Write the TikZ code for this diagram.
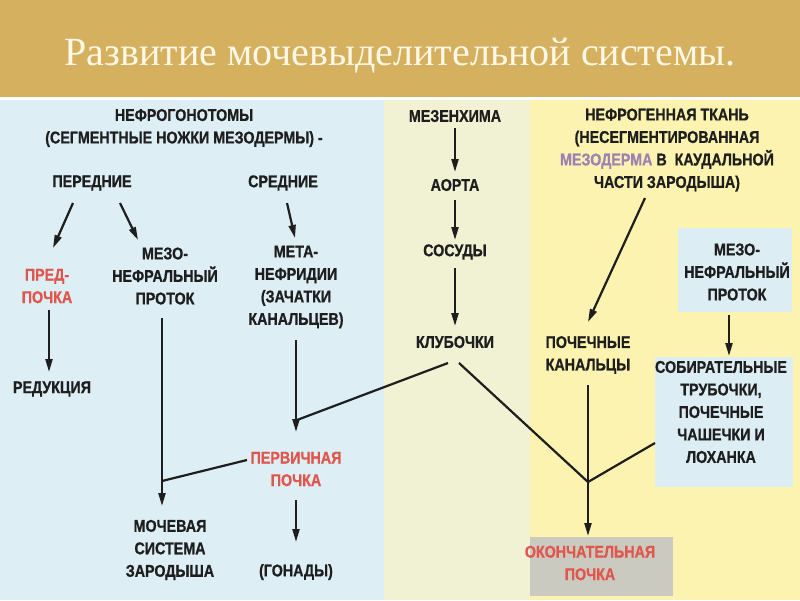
\documentclass[tikz,border=0pt]{standalone}
\usepackage{fontspec}
\setmainfont{Liberation Serif}
\newfontfamily\labelfont[FakeStretch=0.84,BoldFeatures={FakeBold=0.8}]{Liberation Sans}
\usetikzlibrary{arrows.meta}
\definecolor{TitleGold}{HTML}{D5B15F}
\definecolor{TitleCream}{HTML}{FFF8E6}
\definecolor{PanelBlue}{HTML}{DDEEF4}
\definecolor{PanelPale}{HTML}{F1F2D3}
\definecolor{PanelYellow}{HTML}{FBF3AF}
\definecolor{BoxBlue}{HTML}{DCEEF4}
\definecolor{BoxGray}{HTML}{CBCAC0}
\definecolor{LabelInk}{HTML}{1E1E1E}
\definecolor{KidneyRed}{HTML}{E0554C}
\definecolor{MesoPurple}{HTML}{9B82B2}

\begin{document}
\begin{tikzpicture}[
  x=1pt,y=-1pt,
  lbl/.style={font=\labelfont\bfseries\fontsize{17}{22.5}\selectfont,align=center,inner sep=0pt,text=LabelInk},
  redlbl/.style={lbl,text=KidneyRed},
  arrow/.style={-{Triangle[length=13pt,width=7pt]},line width=2.2pt,draw=LabelInk},
  link/.style={line width=2.2pt,draw=LabelInk}
]
\useasboundingbox (0,0) rectangle (800,600);
% background panels
\fill[white] (0,0) rectangle (800,600);
\fill[TitleGold] (0,0) rectangle (800,97);
\fill[PanelBlue] (0,100) rectangle (384,600);
\fill[PanelPale] (384,100) rectangle (530,600);
\fill[PanelYellow] (530,100) rectangle (800,600);
\fill[BoxBlue] (678,228) rectangle (792,312);
\fill[BoxBlue] (655,357) rectangle (793,487);
\fill[BoxGray] (530,537) rectangle (673,596);
\node[font=\fontsize{40}{42}\selectfont,text=TitleCream,anchor=base] (title) at (400,65) {Развитие мочевыделительной системы.};

% left part
\node[lbl] (nefro) at (184,128) {НЕФРОГОНОТОМЫ\\(СЕГМЕНТНЫЕ НОЖКИ МЕЗОДЕРМЫ) -};
\node[lbl] (pered) at (92,183) {ПЕРЕДНИЕ};
\node[lbl] (sred) at (283,183) {СРЕДНИЕ};
\node[redlbl] (pred) at (47,286) {ПРЕД-\\ПОЧКА};
\node[lbl] (mezoL) at (165,276) {МЕЗО-\\НЕФРАЛЬНЫЙ\\ПРОТОК};
\node[lbl] (meta) at (296,287) {МЕТА-\\НЕФРИДИИ\\(ЗАЧАТКИ\\КАНАЛЬЦЕВ)};
\node[lbl] (redukc) at (52,389) {РЕДУКЦИЯ};
\node[redlbl] (pervich) at (296,469) {ПЕРВИЧНАЯ\\ПОЧКА};
\node[lbl] (mochev) at (170,550) {МОЧЕВАЯ\\СИСТЕМА\\ЗАРОДЫША};
\node[lbl] (gonad) at (296,572) {(ГОНАДЫ)};

% middle part
\node[lbl] (mezench) at (455,116) {МЕЗЕНХИМА};
\node[lbl] (aorta) at (455,185) {АОРТА};
\node[lbl] (sosud) at (455,252) {СОСУДЫ};
\node[lbl] (klub) at (455,342) {КЛУБОЧКИ};

% right part
\node[lbl] (nefrogen) at (667,150) {НЕФРОГЕННАЯ ТКАНЬ\\(НЕСЕГМЕНТИРОВАННАЯ\\{\color{MesoPurple}МЕЗОДЕРМА} В\ \ КАУДАЛЬНОЙ\\ЧАСТИ ЗАРОДЫША)};
\node[lbl] (pochkan) at (588,355) {ПОЧЕЧНЫЕ\\КАНАЛЬЦЫ};
\node[lbl] (mezoR) at (737,272) {МЕЗО-\\НЕФРАЛЬНЫЙ\\ПРОТОК};
\node[lbl] (sobir) at (721,412) {СОБИРАТЕЛЬНЫЕ\\ТРУБОЧКИ,\\ПОЧЕЧНЫЕ\\ЧАШЕЧКИ И\\ЛОХАНКА};
\node[redlbl] (okonch) at (590,563) {ОКОНЧАТЕЛЬНАЯ\\ПОЧКА};

% junctions
\coordinate (jA) at (297,420);
\coordinate (jB) at (162,481);
\coordinate (jC) at (588,482);

% connectors
\draw[arrow] ([shift={(-19,20)}]pered.center) -- ([shift={(6,-38)}]pred.center);
\draw[arrow] ([shift={(28,20)}]pered.center) -- ([shift={(-27,-36)}]mezoL.center);
\draw[arrow] ([shift={(4,20)}]sred.center) -- ([shift={(-1,-49)}]meta.center);
\draw[arrow] ([shift={(2,24)}]pred.center) -- ([shift={(-3,-17)}]redukc.center);
\draw[arrow] ([shift={(-3,42)}]mezoL.center) -- ([shift={(-8,-44)}]mochev.center);
\draw[arrow] ([shift={(0,53)}]meta.center) -- ([shift={(0,-37)}]pervich.center);
\draw[link] ([shift={(-7,21)}]klub.center) -- (jA);
\draw[link] ([shift={(-49,-9)}]pervich.center) -- (jB);
\draw[arrow] ([shift={(0,31)}]pervich.center) -- ([shift={(0,-30)}]gonad.center);
\draw[arrow] ([shift={(0,12)}]mezench.center) -- ([shift={(0,-13)}]aorta.center);
\draw[arrow] ([shift={(0,15)}]aorta.center) -- ([shift={(0,-12)}]sosud.center);
\draw[arrow] ([shift={(0,16)}]sosud.center) -- ([shift={(0,-16)}]klub.center);
\draw[arrow] ([shift={(-22,48)}]nefrogen.center) -- ([shift={(0,-33)}]pochkan.center);
\draw[arrow] ([shift={(-8,43)}]mezoR.center) -- ([shift={(8,-56)}]sobir.center);
\draw[link] ([shift={(4,21)}]klub.center) -- (jC);
\draw[link] ([shift={(-66,31)}]sobir.center) -- (jC);
\draw[arrow] ([shift={(0,30)}]pochkan.center) -- ([shift={(-2,-27)}]okonch.center);
\end{tikzpicture}
\end{document}
